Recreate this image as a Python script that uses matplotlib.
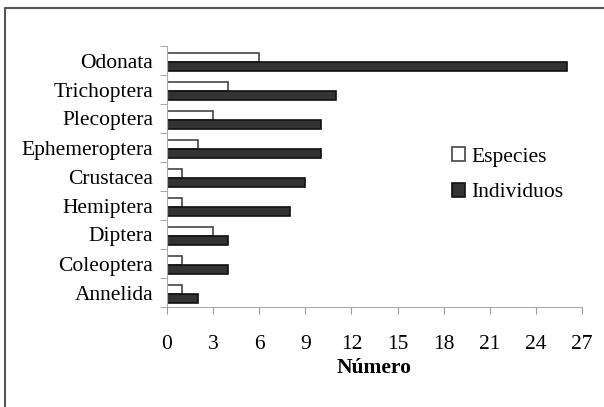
import matplotlib.pyplot as plt
import numpy as np
from matplotlib.lines import Line2D

plt.rcParams['font.family'] = ['Liberation Serif', 'DejaVu Serif']

# data (top to bottom as in the chart)
grupos = ['Odonata', 'Trichoptera', 'Plecoptera', 'Ephemeroptera', 'Crustacea',
          'Hemiptera', 'Diptera', 'Coleoptera', 'Annelida']
especies = [6, 4, 3, 2, 1, 1, 3, 1, 1]
individuos = [26, 11, 10, 10, 9, 8, 4, 4, 2]
x_ticks = [0, 3, 6, 9, 12, 15, 18, 21, 24, 27]

W, H = 604, 407
fig = plt.figure(figsize=(W / 100, H / 100), dpi=100)
ax = fig.add_axes([167 / W, 1 - 307 / H, (582 - 167) / W, (307 - 46) / H])

n = len(grupos)
pos = np.arange(n)[::-1]
h = 0.31
off = -0.05
ax.barh(pos + h / 2 + off, especies, height=h, color='white', edgecolor='#444444', linewidth=1.2, label='Especies')
ax.barh(pos - h / 2 + off, individuos, height=h, color='#333333', edgecolor='#111111', linewidth=1.2, label='Individuos')

ax.set_xlim(0, 27)
ax.set_ylim(-0.5, n - 0.5)
ax.set_xticks(x_ticks)
ax.set_xticklabels([str(t) for t in x_ticks], fontsize=15.5)
ax.set_yticks(pos)
ax.set_yticklabels(grupos, fontsize=15.5)
ax.tick_params(axis='y', length=0, pad=10)
ax.set_yticks(np.arange(n + 1) - 0.5, minor=True)
ax.tick_params(axis='y', which='minor', length=5, color='#999999', direction='out')
ax.tick_params(axis='x', length=5, color='#999999', direction='out', pad=15)

for s in ['top', 'right']:
    ax.spines[s].set_visible(False)
ax.spines['left'].set_color('#aaaaaa')
ax.spines['bottom'].set_color('#aaaaaa')

ax.set_xlabel('Número', fontsize=15.5, fontweight='bold', labelpad=3)

ax.legend(loc='upper left', bbox_to_anchor=(0.665, 0.645), frameon=False, fontsize=15.5,
          handlelength=0.6, handleheight=0.6, handletextpad=0.3, labelspacing=0.75,
          borderaxespad=0)

# outer frame (top and left edges visible in the picture)
fig.add_artist(Line2D([4.5 / W, 4.5 / W, 1], [0, 1 - 7.5 / H, 1 - 7.5 / H],
                      transform=fig.transFigure, color='#555555', linewidth=1.5))

fig.savefig('out.png', dpi=100)
